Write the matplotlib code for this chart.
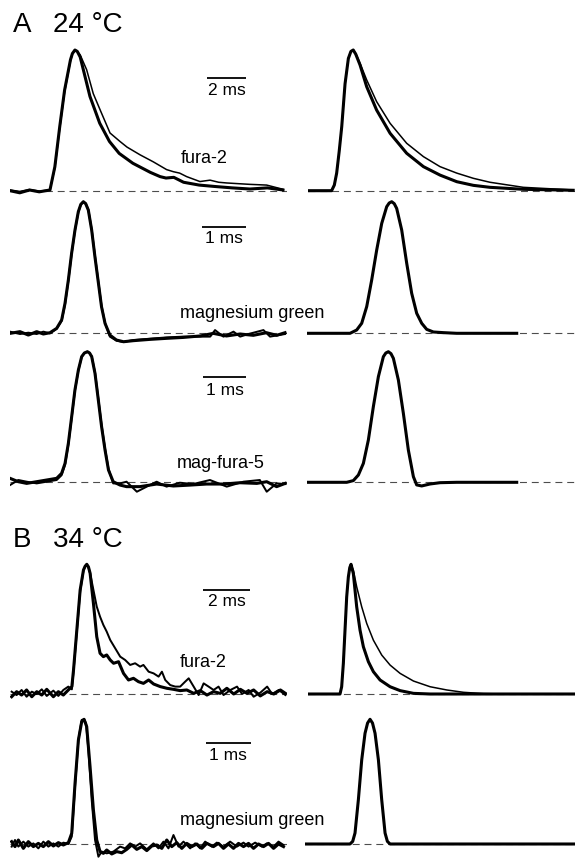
import matplotlib.pyplot as plt
import numpy as np

plt.rcParams['font.family'] = ['Liberation Sans', 'DejaVu Sans']
plt.rcParams['lines.scale_dashes'] = False

# --- A 24 C: fura-2 (t in ms, normalised dF) ---
a1_meas_fast = np.array([[0, 0], [0.5, -0.015], [1.0, 0.005], [1.5, -0.008], [2.05, 0.005], [2.3, 0.17],
                         [2.55, 0.455], [2.8, 0.715], [3.1, 0.93], [3.2, 0.975], [3.33, 1.0], [3.45, 0.99],
                         [3.6, 0.95], [4.1, 0.67],
                         [4.6, 0.48], [5.1, 0.35], [5.6, 0.265], [6.3, 0.195], [7.2, 0.13], [7.7, 0.10],
                         [8.0, 0.09], [8.4, 0.095], [8.9, 0.06], [9.7, 0.04], [10.5, 0.03], [11.4, 0.02],
                         [12.3, 0.012], [13.2, 0.02], [14.0, 0.005]])
a1_meas_slow = np.array([[0, 0.005], [0.5, -0.005], [1.0, 0.008], [1.5, -0.003], [2.05, 0.005], [2.3, 0.16],
                         [2.55, 0.44], [2.8, 0.70], [3.1, 0.92], [3.2, 0.97], [3.33, 1.0], [3.45, 0.99],
                         [3.6, 0.965], [3.93, 0.86],
                         [4.27, 0.69], [4.62, 0.575], [5.13, 0.41], [5.64, 0.35], [6.0, 0.31], [6.67, 0.255],
                         [7.35, 0.205], [8.03, 0.15], [8.38, 0.135], [8.7, 0.125], [9.06, 0.10], [9.74, 0.065],
                         [10.26, 0.075], [10.7, 0.06], [11.11, 0.055], [11.7, 0.05], [12.31, 0.045],
                         [13.16, 0.04], [14.0, 0.01]])
a1_model_fast = np.array([[0, 0], [1.21, 0], [1.35, 0.04], [1.47, 0.125], [1.6, 0.28], [1.73, 0.455],
                          [1.9, 0.76], [2.07, 0.94], [2.2, 0.99], [2.32, 1.0], [2.45, 0.97], [2.67, 0.893],
                          [3.01, 0.739], [3.52, 0.573], [4.21, 0.408], [5.06, 0.266], [5.92, 0.171],
                          [6.77, 0.111], [7.63, 0.064], [8.48, 0.038], [9.33, 0.024], [11.04, 0.01], [13.6, 0.003]])
a1_model_slow = np.array([[0, 0], [1.21, 0], [1.35, 0.04], [1.47, 0.125], [1.6, 0.28], [1.73, 0.455],
                          [1.9, 0.76], [2.07, 0.94], [2.2, 0.99], [2.32, 1.0], [2.45, 0.975], [2.67, 0.905],
                          [3.01, 0.787], [3.52, 0.633], [4.21, 0.479], [5.06, 0.337], [5.92, 0.242],
                          [6.77, 0.171], [7.63, 0.125], [8.48, 0.088], [9.33, 0.06], [11.04, 0.024], [13.6, 0.005]])

# --- A 24 C: magnesium green ---
a2_meas_1 = np.array([[0, -0.005], [0.227, 0.008], [0.417, -0.018], [0.606, 0.008], [0.758, -0.01], [0.909, 0],
                      [1.06, 0.033], [1.174, 0.097], [1.25, 0.224], [1.326, 0.402], [1.40, 0.606], [1.477, 0.784],
                      [1.553, 0.924], [1.61, 0.98], [1.667, 1.0], [1.72, 0.985], [1.78, 0.936], [1.856, 0.784],
                      [1.93, 0.58], [2.01, 0.377],
                      [2.08, 0.198], [2.16, 0.071], [2.27, -0.018], [2.42, -0.056], [2.58, -0.069], [2.80, -0.061],
                      [3.18, -0.051], [3.56, -0.043], [3.94, -0.036], [4.32, -0.025], [4.62, -0.005], [4.92, -0.025],
                      [5.23, -0.01], [5.53, -0.02], [5.83, 0], [6.06, -0.02], [6.25, 0]])
a2_meas_2 = np.array([[0, 0.008], [0.227, -0.01], [0.417, 0], [0.606, -0.01], [0.758, 0.008], [0.909, -0.005],
                      [1.06, 0.03], [1.174, 0.09], [1.25, 0.215], [1.326, 0.395], [1.40, 0.6], [1.477, 0.78],
                      [1.553, 0.92], [1.61, 0.978], [1.667, 1.0], [1.72, 0.987], [1.78, 0.94], [1.856, 0.79],
                      [1.93, 0.59], [2.01, 0.385],
                      [2.08, 0.205], [2.16, 0.075], [2.27, -0.03], [2.42, -0.061], [2.58, -0.071], [2.80, -0.056],
                      [3.18, -0.046], [3.56, -0.036], [3.94, -0.03], [4.32, -0.03], [4.55, -0.03], [4.66, 0.02],
                      [4.85, -0.03], [5.08, 0.008], [5.23, -0.03], [5.42, -0.01], [5.76, 0.02], [5.91, -0.03],
                      [6.25, -0.01]])
a2_model = np.array([[0, 0], [0.985, 0], [1.136, 0.025], [1.25, 0.076], [1.364, 0.203], [1.477, 0.405],
                     [1.591, 0.633], [1.705, 0.835], [1.818, 0.962], [1.875, 0.99], [1.932, 1.0], [1.99, 0.985],
                     [2.045, 0.949], [2.159, 0.785],
                     [2.273, 0.532], [2.386, 0.304], [2.5, 0.152], [2.614, 0.076], [2.727, 0.03], [2.879, 0.01],
                     [3.106, 0.005], [3.409, 0], [4.773, 0]])

# --- A 24 C: mag-fura-5 ---
a3_meas_1 = np.array([[0, 0.026], [0.194, 0], [0.388, -0.013], [0.62, 0], [0.853, 0.013], [1.085, 0.026],
                      [1.2, 0.064], [1.28, 0.141], [1.357, 0.295], [1.434, 0.5], [1.51, 0.705], [1.59, 0.859],
                      [1.667, 0.962], [1.73, 0.99], [1.8, 1.0], [1.85, 0.99], [1.9, 0.962], [1.977, 0.833],
                      [2.054, 0.628], [2.13, 0.423],
                      [2.21, 0.244], [2.29, 0.09], [2.40, 0], [2.56, -0.026], [2.71, -0.038], [3.02, -0.038],
                      [3.41, -0.018], [3.80, -0.033], [4.19, -0.026], [4.57, -0.018], [4.96, -0.018],
                      [5.35, -0.008], [5.74, -0.013], [5.97, 0], [6.2, -0.038], [6.4, -0.013]])
a3_meas_2 = np.array([[0, -0.026], [0.194, 0.013], [0.388, 0], [0.62, -0.013], [0.853, 0], [1.085, 0.013],
                      [1.2, 0.05], [1.28, 0.13], [1.357, 0.285], [1.434, 0.49], [1.51, 0.70], [1.59, 0.855],
                      [1.667, 0.96], [1.73, 0.99], [1.8, 1.0], [1.85, 0.99], [1.9, 0.965], [1.977, 0.84],
                      [2.054, 0.64], [2.13, 0.435],
                      [2.21, 0.255], [2.29, 0.1], [2.40, -0.013], [2.56, -0.013], [2.71, 0], [2.95, -0.077],
                      [3.18, -0.038], [3.41, 0], [3.64, -0.038], [3.95, -0.008], [4.26, -0.018], [4.65, 0.013],
                      [5.04, -0.038], [5.43, 0], [5.81, 0.013], [5.97, -0.077], [6.2, -0.013], [6.4, -0.018]])
a3_model = np.array([[0, 0], [0.93, 0], [1.085, 0.013], [1.202, 0.056], [1.318, 0.145], [1.434, 0.324],
                     [1.55, 0.579], [1.667, 0.809], [1.783, 0.962], [1.84, 0.99], [1.899, 1.0], [1.96, 0.985],
                     [2.016, 0.949], [2.132, 0.783],
                     [2.248, 0.528], [2.364, 0.247], [2.481, 0.043], [2.558, -0.02], [2.674, -0.028],
                     [2.868, -0.013], [3.101, -0.003], [3.488, 0], [4.884, 0]])

# --- B 34 C: fura-2 ---
b1_meas_fast = np.array([[0.07, -0.021], [0.28, 0.018], [0.49, -0.008], [0.70, 0.031], [0.92, -0.021],
                         [1.13, 0.018], [1.34, -0.008], [1.55, 0.036], [1.83, -0.021], [2.04, 0.018],
                         [2.25, -0.008], [2.46, 0.031], [2.61, 0.057], [2.68, 0.185], [2.82, 0.494],
                         [2.96, 0.802], [3.10, 0.956], [3.17, 0.985], [3.24, 1.0], [3.31, 0.98], [3.38, 0.931],
                         [3.52, 0.699], [3.66, 0.442],
                         [3.80, 0.314], [3.94, 0.288], [4.08, 0.301], [4.23, 0.262], [4.37, 0.237], [4.58, 0.249],
                         [4.79, 0.159], [5.0, 0.108], [5.21, 0.121], [5.42, 0.095], [5.63, 0.082], [5.85, 0.108],
                         [6.06, 0.077], [6.34, 0.057], [6.62, 0.044], [6.90, 0.036], [7.18, 0.026], [7.46, 0.031],
                         [7.75, 0.005], [8.03, 0.026], [8.31, -0.008], [8.59, 0.018], [8.87, 0.005], [9.15, 0.044],
                         [9.44, 0], [9.72, 0.036], [10.0, 0.005], [10.28, 0.031], [10.56, -0.015], [10.85, 0.018],
                         [11.13, 0], [11.41, 0.031], [11.62, 0.005]])
b1_meas_slow = np.array([[0.07, 0.018], [0.28, -0.008], [0.49, 0.031], [0.70, -0.021], [0.92, 0.018],
                         [1.13, 0], [1.34, 0.036], [1.55, -0.015], [1.83, 0.026], [2.04, -0.015], [2.25, 0.031],
                         [2.46, 0.057], [2.61, 0.036], [2.68, 0.172], [2.82, 0.481], [2.96, 0.789], [3.10, 0.951],
                         [3.17, 0.985], [3.24, 1.0], [3.31, 0.975], [3.38, 0.931], [3.52, 0.802], [3.66, 0.674],
                         [3.80, 0.596], [3.94, 0.532],
                         [4.08, 0.481], [4.23, 0.416], [4.44, 0.352], [4.65, 0.288], [4.86, 0.262], [5.07, 0.224],
                         [5.28, 0.237], [5.49, 0.211], [5.63, 0.224], [5.85, 0.172], [6.06, 0.159], [6.27, 0.134],
                         [6.41, 0.172], [6.55, 0.108], [6.76, 0.069], [6.97, 0.057], [7.18, 0.057], [7.39, 0.095],
                         [7.54, 0.121], [7.75, 0.057], [7.96, -0.008], [8.17, 0.082], [8.38, 0.057], [8.59, 0.031],
                         [8.80, 0.057], [9.01, -0.008], [9.30, 0.031], [9.58, 0.057], [9.79, 0], [10.07, 0.031],
                         [10.28, -0.021], [10.56, 0.01], [10.85, 0.057], [11.06, 0], [11.34, 0.031], [11.62, -0.008]])
b1_model_fast = np.array([[0, 0], [1.338, 0], [1.408, 0.056], [1.479, 0.236], [1.549, 0.492], [1.62, 0.749],
                          [1.69, 0.903], [1.75, 0.975], [1.803, 1.0], [1.901, 0.928], [2.042, 0.672], [2.183, 0.492],
                          [2.324, 0.364], [2.535, 0.249], [2.746, 0.172], [3.028, 0.108], [3.451, 0.056],
                          [3.873, 0.026], [4.437, 0.005], [5.14, 0], [11.27, 0]])
b1_model_slow = np.array([[0, 0], [1.338, 0], [1.408, 0.056], [1.479, 0.236], [1.549, 0.492], [1.62, 0.749],
                          [1.69, 0.903], [1.75, 0.975], [1.803, 1.0], [1.901, 0.954], [2.042, 0.826], [2.254, 0.672],
                          [2.465, 0.544], [2.746, 0.415], [3.099, 0.3], [3.451, 0.223], [3.873, 0.159],
                          [4.437, 0.1], [5.14, 0.056], [5.845, 0.031], [6.549, 0.013], [7.394, 0.003],
                          [8.38, 0], [11.27, 0]])

# --- B 34 C: magnesium green ---
b2_meas_1 = np.array([[0.037, 0.019], [0.112, -0.021], [0.187, 0.032], [0.299, -0.035], [0.41, 0.019],
                      [0.522, -0.021], [0.634, 0.005], [0.746, -0.021], [0.858, 0.019], [0.97, -0.016],
                      [1.082, 0.011], [1.194, -0.008], [1.306, 0.011], [1.381, 0.086], [1.455, 0.487],
                      [1.53, 0.834], [1.604, 0.981], [1.657, 1.0], [1.716, 0.941], [1.791, 0.62], [1.866, 0.273],
                      [1.94, 0.032], [2.015, -0.061], [2.09, -0.075], [2.164, -0.048], [2.276, -0.08],
                      [2.388, -0.061], [2.5, -0.07], [2.612, -0.043], [2.724, -0.008], [2.836, -0.043],
                      [2.948, -0.021], [3.06, -0.053], [3.172, -0.016], [3.284, -0.008], [3.396, -0.035],
                      [3.507, 0.032], [3.619, -0.021], [3.731, 0.011], [3.843, -0.035], [3.955, 0.005],
                      [4.067, -0.021], [4.179, 0], [4.291, -0.035], [4.403, 0.005], [4.552, -0.021],
                      [4.664, 0.005], [4.776, -0.035], [4.888, 0], [5.0, -0.035], [5.112, 0.005], [5.224, -0.021],
                      [5.336, 0.005], [5.448, -0.035], [5.56, 0], [5.672, -0.021], [5.784, 0.005],
                      [5.896, -0.035], [6.007, 0], [6.119, -0.021]])
b2_meas_2 = np.array([[0.037, -0.021], [0.112, 0.032], [0.187, -0.021], [0.299, 0.019], [0.41, -0.021],
                      [0.522, 0.005], [0.634, -0.035], [0.746, 0.019], [0.858, -0.021], [0.97, 0.005],
                      [1.082, -0.021], [1.194, 0.011], [1.306, 0], [1.381, 0.059], [1.455, 0.46], [1.53, 0.834],
                      [1.604, 0.995], [1.657, 1.0], [1.701, 0.968], [1.754, 0.754], [1.828, 0.353],
                      [1.903, 0.032], [1.978, -0.102], [2.052, -0.061], [2.164, -0.075], [2.313, -0.061],
                      [2.463, -0.021], [2.575, -0.035], [2.687, 0.005], [2.799, -0.021], [2.91, 0.005],
                      [3.06, -0.043], [3.209, 0.005], [3.321, -0.035], [3.433, 0.019], [3.545, -0.035],
                      [3.657, 0.072], [3.769, -0.021], [3.881, 0.019], [4.03, -0.035], [4.142, 0.005],
                      [4.254, -0.035], [4.366, 0.019], [4.515, -0.021], [4.627, 0.011], [4.776, -0.021],
                      [4.925, 0.019], [5.075, -0.021], [5.224, 0.011], [5.336, -0.021], [5.485, 0.011],
                      [5.634, -0.021], [5.746, 0.005], [5.896, -0.021], [6.007, 0.019], [6.119, -0.008]])
b2_model = np.array([[0, 0], [1.007, 0], [1.067, 0.021], [1.119, 0.088], [1.194, 0.355], [1.269, 0.675],
                     [1.343, 0.888], [1.40, 0.97], [1.455, 1.0], [1.51, 0.97], [1.567, 0.888], [1.642, 0.675],
                     [1.716, 0.355], [1.791, 0.088], [1.843, 0.021], [1.903, 0], [6.045, 0]])

W, H = 575, 863
fig = plt.figure(figsize=(W / 100, H / 100), dpi=100)


def make_ax(x0, x1, pxms, y_peak, y_base):
    # axes placed in pixel units so baseline and peak land where the original has them
    s = y_base - y_peak
    top = y_peak - 0.15 * s
    bot = y_base + 0.3 * s
    ax = fig.add_axes([x0 / W, 1 - bot / H, (x1 - x0) / W, (bot - top) / H])
    ax.set_xlim(0, (x1 - x0) / pxms)
    ax.set_ylim(-0.3, 1.15)
    ax.axis('off')
    ax.axhline(0, color='0.3', lw=0.8, dashes=(5, 3.5), zorder=1)
    return ax


def trace(ax, d, lw):
    ax.plot(d[:, 0], d[:, 1], color='black', lw=lw, solid_joinstyle='round', zorder=3)


def scalebar(ax, t0, length, y, label_y):
    ax.plot([t0, t0 + length], [y, y], color='black', lw=1.3, solid_capstyle='butt')
    ax.text(t0 + length / 2, label_y, '%g ms' % length, ha='center', va='baseline', fontsize=12.5)


thick, thin = 2.2, 1.1
fs_lab = 13

# row A1
ax = make_ax(10, 287, 19.5, 50, 190.7)
trace(ax, a1_meas_slow, thin)
trace(ax, a1_meas_fast, thick)
scalebar(ax, 10.1, 2, 0.80, 0.68)
ax.text(8.75, 0.197, 'fura-2', ha='left', va='baseline', fontsize=fs_lab)
ax = make_ax(308, 575, 19.5, 50, 190.7)
trace(ax, a1_model_slow, thin)
trace(ax, a1_model_fast, thick)

# row A2
ax = make_ax(10, 287, 44, 201.7, 332.7)
trace(ax, a2_meas_2, thin * 1.3)
trace(ax, a2_meas_1, thick)
scalebar(ax, 4.36, 1, 0.809, 0.682)
ax.text(3.86, 0.11, 'magnesium green', ha='left', va='baseline', fontsize=fs_lab)
ax = make_ax(306.7, 575, 44, 201.7, 333.3)
trace(ax, a2_model, thick)

# row A3
ax = make_ax(10, 287, 43, 351.7, 481.7)
trace(ax, a3_meas_2, thin * 1.3)
trace(ax, a3_meas_1, thick)
scalebar(ax, 4.49, 1, 0.808, 0.667)
ax.text(3.88, 0.103, 'mag-fura-5', ha='left', va='baseline', fontsize=fs_lab)
ax = make_ax(306.7, 575, 43, 351.7, 482.3)
trace(ax, a3_model, thick)

# row B1
ax = make_ax(10, 287, 23.7, 564.3, 694)
trace(ax, b1_meas_slow, thin * 1.3)
trace(ax, b1_meas_fast, thick)
scalebar(ax, 8.13, 2, 0.80, 0.678)
ax.text(7.17, 0.21, 'fura-2', ha='left', va='baseline', fontsize=fs_lab)
ax = make_ax(308.3, 575, 23.7, 564.3, 694)
trace(ax, b1_model_slow, thin)
trace(ax, b1_model_fast, thick)

# row B2
ax = make_ax(10, 287, 44.7, 719.3, 844)
trace(ax, b2_meas_2, thin * 1.3)
trace(ax, b2_meas_1, thick)
scalebar(ax, 4.385, 1, 0.807, 0.674)
ax.text(3.8, 0.152, 'magnesium green', ha='left', va='baseline', fontsize=fs_lab)
ax = make_ax(305, 575, 44.7, 719.3, 844)
trace(ax, b2_model, thick)

# panel titles
fig.text(13 / W, 1 - 32 / H, 'A', fontsize=20, va='baseline')
fig.text(53 / W, 1 - 32 / H, '24 \u00b0C', fontsize=20, va='baseline')
fig.text(13 / W, 1 - 547 / H, 'B', fontsize=20, va='baseline')
fig.text(53 / W, 1 - 547 / H, '34 \u00b0C', fontsize=20, va='baseline')

fig.savefig('out.png', dpi=100)
